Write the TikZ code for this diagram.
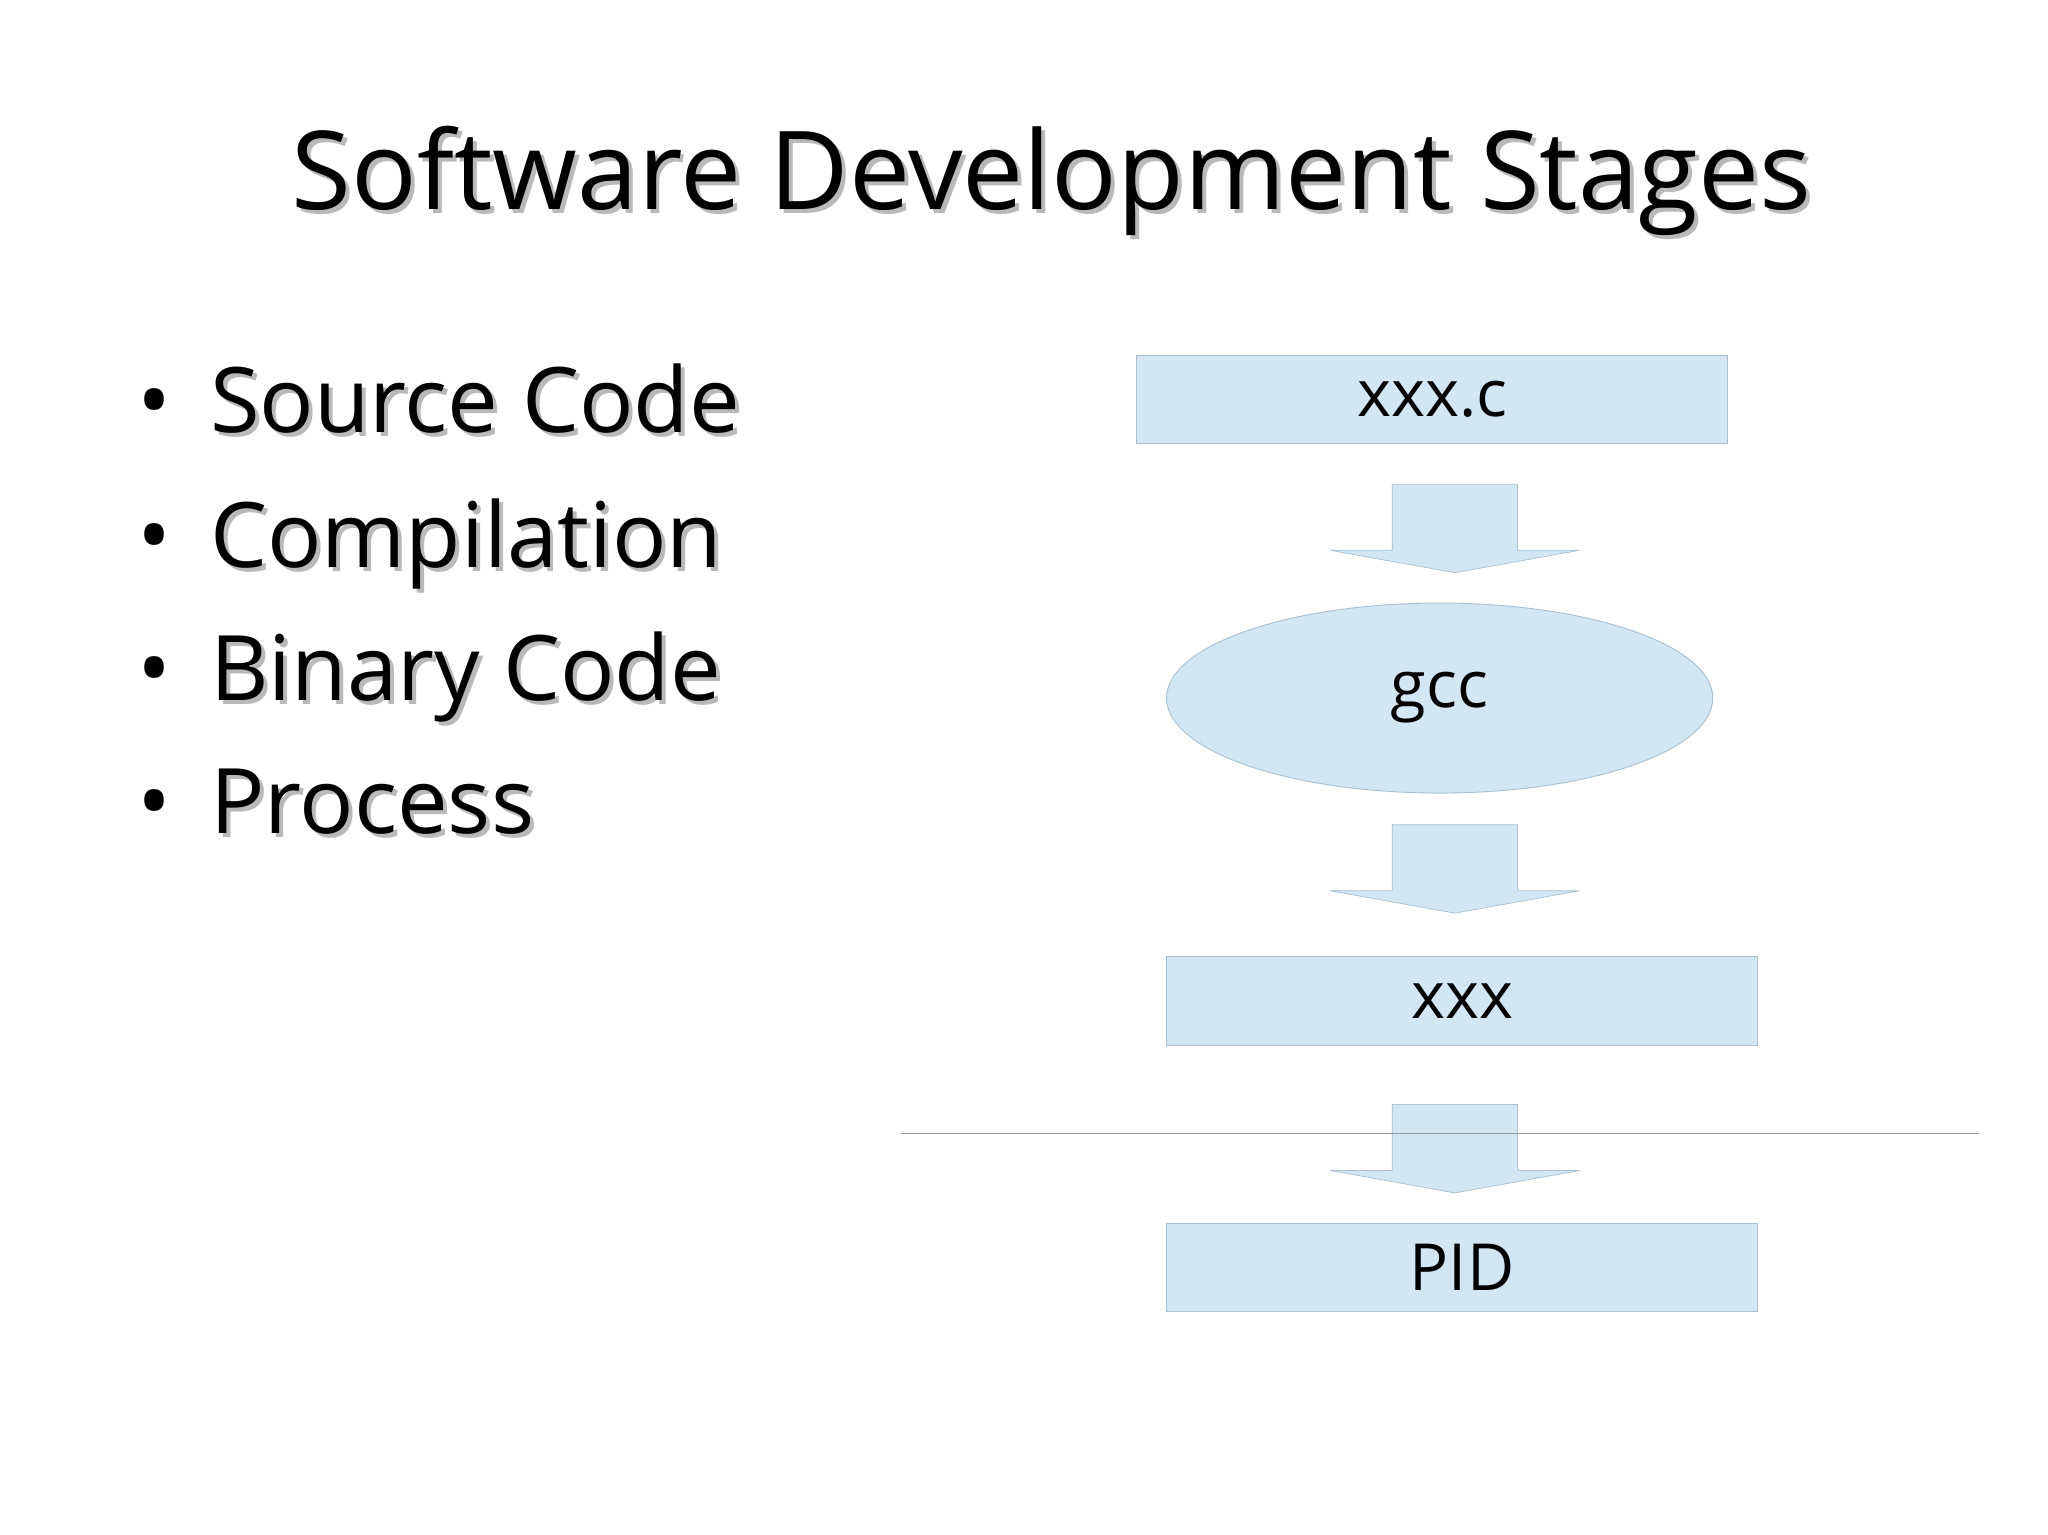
\documentclass[tikz,border=0pt]{standalone}
\usepackage{fontspec}
\setmainfont{Open Sans}
\usetikzlibrary{shapes.geometric}
\definecolor{boxfill}{HTML}{D2E6F4}
\definecolor{boxline}{HTML}{A9C1D3}
\tikzset{
  boxn/.style={draw=boxline, fill=boxfill, minimum width=8.96cm, minimum height=1.34cm, inner sep=0pt, font=\fontsize{28}{32}\selectfont},
  elln/.style={ellipse, draw=boxline, fill=boxfill, minimum width=8.28cm, minimum height=2.88cm, inner sep=0pt, font=\fontsize{28}{32}\selectfont},
  arr/.style={draw=boxline, fill=boxfill, line width=0.3pt},
  bul/.style={anchor=base west, font=\fontsize{39}{44}\selectfont},
}
\newcommand{\shadowtext}[3]{%
  \node[#1, text=gray!55] at ([xshift=0.06cm,yshift=-0.06cm]#2) {#3};
  \node[#1] at (#2) {#3};}
\newcommand{\downarrowat}[2]{% x center, top y
  \path[arr] ({#1-47.5},{#2}) -- ({#1+47.5},{#2}) -- ({#1+47.5},{#2+50}) -- ({#1+94.5},{#2+50})
    -- ({#1},{#2+67}) -- ({#1-94.5},{#2+50}) -- ({#1-47.5},{#2+50}) -- cycle;}
\begin{document}
\begin{tikzpicture}[x=0.02cm,y=-0.02cm]
\useasboundingbox[fill=white] (0,0) rectangle (1552,1163);
\coordinate (tt) at (797,137);
\shadowtext{font=\fontsize{47}{52}\selectfont}{tt}{Software Development Stages}
\foreach \t/\y [count=\i] in {Source Code/328, Compilation/430, Binary Code/531, Process/632}{
  \coordinate (b\i) at (153,\y);
  \shadowtext{bul}{b\i}{\t}
  \node[bul] (d\i) at (98,\y) {•};
}
\node[boxn] (src) at (1085.5,302.5) {xxx.c};
\node[elln] (gcc) at (1091,529) {gcc};
\node[boxn] (bin) at (1108,758.5) {xxx};
\node[boxn] (pid) at (1108,960.5) {PID};
\downarrowat{1102.5}{367}
\downarrowat{1102.5}{625}
\downarrowat{1102.5}{837}
\coordinate (la) at (683,859);
\coordinate (lb) at (1500,859);
\draw[gray!80, line width=0.5pt] (la) -- (lb);
\end{tikzpicture}
\end{document}
